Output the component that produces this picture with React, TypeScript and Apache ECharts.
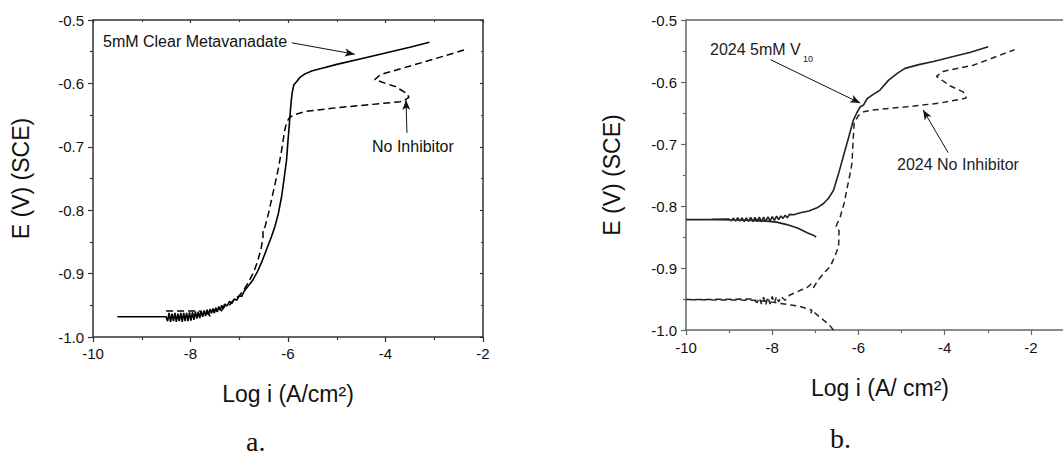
import React, { useEffect, useRef } from "react";
import * as echarts from "echarts";

// Panel a: Log i (A/cm²) vs E (V) (SCE)
const metavanadateA: [number, number][] = [
  [-9.5, -0.968], [-8.5, -0.968], [-8.47, -0.975], [-8.44, -0.962], [-8.41, -0.976], [-8.38, -0.963],
  [-8.35, -0.975], [-8.32, -0.962], [-8.29, -0.976], [-8.26, -0.963], [-8.23, -0.975], [-8.2, -0.962],
  [-8.17, -0.976], [-8.14, -0.962], [-8.11, -0.975], [-8.08, -0.962], [-8.05, -0.975], [-8.02, -0.961],
  [-7.99, -0.974], [-7.96, -0.961], [-7.93, -0.973], [-7.9, -0.96], [-7.87, -0.971], [-7.84, -0.96],
  [-7.81, -0.97], [-7.78, -0.959], [-7.75, -0.968], [-7.72, -0.958], [-7.69, -0.967], [-7.66, -0.957],
  [-7.63, -0.965], [-7.6, -0.956], [-7.57, -0.963], [-7.54, -0.955], [-7.51, -0.962], [-7.48, -0.954],
  [-7.45, -0.96], [-7.42, -0.952], [-7.39, -0.958], [-7.36, -0.95], [-7.33, -0.955], [-7.3, -0.948],
  [-7.25, -0.951], [-7.2, -0.944], [-7.15, -0.947], [-7.1, -0.94], [-7.05, -0.942], [-7.0, -0.935],
  [-6.95, -0.936], [-6.9, -0.928], [-6.8, -0.918], [-6.72, -0.91], [-6.64, -0.899], [-6.54, -0.882],
  [-6.44, -0.862], [-6.34, -0.842], [-6.27, -0.826], [-6.2, -0.806], [-6.13, -0.778], [-6.08, -0.75],
  [-6.03, -0.721], [-6.0, -0.69], [-5.97, -0.662], [-5.95, -0.642], [-5.93, -0.625], [-5.91, -0.613],
  [-5.88, -0.602], [-5.82, -0.597], [-5.75, -0.59], [-5.65, -0.585], [-5.5, -0.58], [-5.3, -0.576],
  [-5.0, -0.57], [-4.5, -0.561], [-4.0, -0.552], [-3.5, -0.543], [-3.1, -0.535],
];
const noInhibitorA: [number, number][] = [
  [-8.5, -0.959], [-7.8, -0.959], [-7.75, -0.966], [-7.68, -0.96], [-7.6, -0.967], [-7.5, -0.957],
  [-7.4, -0.962], [-7.3, -0.952], [-7.2, -0.95], [-7.1, -0.94], [-7.0, -0.935], [-6.9, -0.925],
  [-6.8, -0.912], [-6.7, -0.897], [-6.62, -0.88], [-6.55, -0.86], [-6.51, -0.84], [-6.52, -0.83],
  [-6.47, -0.826], [-6.4, -0.805], [-6.34, -0.784], [-6.27, -0.76], [-6.2, -0.735], [-6.13, -0.705],
  [-6.07, -0.675], [-6.03, -0.662], [-5.98, -0.655], [-5.9, -0.65], [-5.62, -0.644], [-5.08, -0.639],
  [-4.4, -0.634], [-3.7, -0.629], [-3.6, -0.626], [-3.52, -0.622], [-3.56, -0.616], [-3.8, -0.605],
  [-4.0, -0.6], [-4.22, -0.594], [-4.1, -0.586], [-3.2, -0.566], [-2.37, -0.547],
];

// Panel b
const metavanadateB: [number, number][] = [
  [-6.98, -0.85], [-7.05, -0.847], [-7.19, -0.843], [-7.4, -0.836], [-7.66, -0.83], [-7.9, -0.826],
  [-8.2, -0.824], [-8.6, -0.823], [-9.2, -0.822], [-10, -0.822], [-9.4, -0.8215], [-9.0, -0.821],
  [-8.95, -0.824], [-8.9, -0.8195], [-8.85, -0.8245], [-8.8, -0.819], [-8.75, -0.8245], [-8.7, -0.819],
  [-8.65, -0.825], [-8.6, -0.819], [-8.55, -0.825], [-8.5, -0.8185], [-8.45, -0.825], [-8.4, -0.8185],
  [-8.35, -0.825], [-8.3, -0.818], [-8.25, -0.8255], [-8.2, -0.818], [-8.15, -0.825], [-8.1, -0.8175],
  [-8.05, -0.824], [-8.0, -0.817], [-7.95, -0.823], [-7.9, -0.8165], [-7.85, -0.822], [-7.8, -0.816],
  [-7.75, -0.82], [-7.7, -0.815], [-7.65, -0.819], [-7.6, -0.8135], [-7.5, -0.814], [-7.35, -0.811],
  [-7.15, -0.808], [-6.96, -0.803], [-6.81, -0.796], [-6.7, -0.788], [-6.58, -0.775], [-6.45, -0.745],
  [-6.33, -0.715], [-6.23, -0.69], [-6.12, -0.662], [-6.04, -0.65], [-5.96, -0.64], [-5.88, -0.637],
  [-5.8, -0.627], [-5.7, -0.622], [-5.5, -0.613], [-5.3, -0.597], [-5.1, -0.586], [-4.92, -0.578],
  [-4.6, -0.572], [-4.26, -0.567], [-3.8, -0.559], [-3.4, -0.552], [-2.99, -0.543],
];
const noInhibitorB: [number, number][] = [
  [-6.58, -1.0], [-6.7, -0.99], [-6.81, -0.984], [-6.95, -0.976], [-7.05, -0.97], [-7.1, -0.973],
  [-7.08, -0.968], [-7.35, -0.962], [-7.82, -0.957], [-8.1, -0.954], [-8.4, -0.952], [-10, -0.951],
  [-8.45, -0.95], [-8.35, -0.956], [-8.3, -0.948], [-8.25, -0.958], [-8.2, -0.947], [-8.15, -0.959],
  [-8.1, -0.947], [-8.05, -0.958], [-8.0, -0.946], [-7.95, -0.957], [-7.9, -0.946], [-7.85, -0.955],
  [-7.8, -0.946], [-7.7, -0.952], [-7.6, -0.944], [-7.35, -0.936], [-7.2, -0.932], [-7.1, -0.926],
  [-7.05, -0.932], [-6.93, -0.919], [-6.8, -0.908], [-6.65, -0.897], [-6.54, -0.88], [-6.46, -0.865],
  [-6.45, -0.84], [-6.52, -0.833], [-6.42, -0.817], [-6.33, -0.795], [-6.27, -0.774], [-6.2, -0.75],
  [-6.15, -0.731], [-6.12, -0.69], [-6.1, -0.666], [-6.0, -0.654], [-5.88, -0.648], [-5.66, -0.645],
  [-4.88, -0.64], [-4.11, -0.634], [-3.5, -0.626], [-3.57, -0.616], [-3.88, -0.606], [-4.19, -0.591],
  [-4.04, -0.583], [-3.34, -0.573], [-2.38, -0.548],
];

// Annotation arrows (data coordinates): [from, to]
const arrowsA: [[number, number], [number, number]][] = [
  [[-5.92, -0.536], [-4.63, -0.554]],
  [[-3.56, -0.678], [-3.58, -0.626]],
];
const arrowsB: [[number, number], [number, number]][] = [
  [[-8.04, -0.564], [-5.96, -0.634]],
  [[-3.92, -0.714], [-4.5, -0.645]],
];

const xTicks = { min: -10, max: -2, interval: 2 };
const yTicks = { min: -1.0, max: -0.5, interval: 0.1 };

const SANS = "'Liberation Sans', Arial, sans-serif";
const SERIF = "'Liberation Serif', 'Times New Roman', serif";

function arrowMark(arrows: [[number, number], [number, number]][]) {
  return {
    silent: true,
    symbol: ["none", "arrow"],
    symbolSize: [6, 10],
    label: { show: false },
    lineStyle: { color: "#111", width: 1, type: "solid" },
    data: arrows.map(([a, b]) => [{ coord: a }, { coord: b }]),
  };
}

export default function App() {
  const ref = useRef<HTMLDivElement>(null);
  useEffect(() => {
    if (!ref.current) return;
    const chart = echarts.init(ref.current, undefined, { renderer: "svg" });
    const axisColA = "#333";
    const axisColB = "#666";
    const mkX = (grid: number, col: string, pos: "bottom" | "top", name: string, extraMax?: number) => ({
      type: "value",
      gridIndex: grid,
      position: pos,
      min: xTicks.min,
      max: extraMax ?? xTicks.max,
      interval: xTicks.interval,
      axisLine: { show: true, onZero: false, lineStyle: { color: col, width: 1.5 } },
      axisTick: pos === "bottom"
        ? { show: true, inside: false, length: 5, lineStyle: { color: col, width: 1.2 } }
        : { show: grid === 0, inside: true, length: 3, lineStyle: { color: col, width: 1.2 } },
      minorTick: pos === "bottom"
        ? { show: true, splitNumber: 2, length: 3, lineStyle: { color: col, width: 1.2 } }
        : { show: grid === 0, splitNumber: 2, length: 2, lineStyle: { color: col } },
      splitLine: { show: false },
      axisLabel: pos === "bottom"
        ? {
            show: true, color: "#111", fontSize: 15, fontFamily: SANS, margin: grid === 0 ? 9 : 10,
            formatter: (v: number) => (Math.abs(v % 2) < 1e-9 ? String(v) : ""),
          }
        : { show: false },
      name: pos === "bottom" ? name : "",
      nameLocation: "middle",
      nameGap: grid === 0 ? 45 : 46,
      nameTextStyle: { fontSize: 23, color: "#111", fontFamily: SANS },
    });
    const mkY = (grid: number, col: string, pos: "left" | "right") => ({
      type: "value",
      gridIndex: grid,
      position: pos,
      min: yTicks.min,
      max: yTicks.max,
      interval: yTicks.interval,
      axisLine: { show: true, onZero: false, lineStyle: { color: col, width: 1.5 } },
      axisTick: pos === "left"
        ? { show: true, inside: false, length: 5, lineStyle: { color: col, width: 1.2 } }
        : { show: grid === 0, inside: true, length: 3, lineStyle: { color: col, width: 1.2 } },
      minorTick: pos === "left"
        ? { show: true, splitNumber: 2, length: 3, lineStyle: { color: col, width: 1.2 } }
        : { show: grid === 0, splitNumber: 2, length: 2, lineStyle: { color: col } },
      splitLine: { show: false },
      axisLabel: pos === "left"
        ? { show: true, color: "#111", fontSize: 15, fontFamily: SANS, margin: 9, formatter: (v: number) => v.toFixed(1) }
        : { show: false },
      name: pos === "left" ? "E (V) (SCE)" : "",
      nameLocation: "middle",
      nameGap: grid === 0 ? 61 : 63,
      nameTextStyle: { fontSize: 23, color: "#111", fontFamily: SANS },
    });

    chart.setOption({
      animation: false,
      backgroundColor: "#fff",
      textStyle: { fontFamily: SANS },
      grid: [
        { left: 93, width: 390, top: 20, height: 317 },
        { left: 686, width: 388, top: 20, height: 310 },
      ],
      xAxis: [
        mkX(0, axisColA, "bottom", "Log i (A/cm²)"),
        mkX(0, axisColA, "top", ""),
        mkX(1, axisColB, "bottom", "Log i (A/ cm²)", -1),
        mkX(1, axisColB, "top", "", -1),
      ],
      yAxis: [mkY(0, axisColA, "left"), mkY(0, axisColA, "right"), mkY(1, axisColB, "left"), mkY(1, axisColB, "right")],
      series: [
        {
          name: "5mM Clear Metavanadate", type: "line", xAxisIndex: 0, yAxisIndex: 0,
          data: metavanadateA, showSymbol: false, smooth: false,
          lineStyle: { color: "#000", width: 1.6, type: "solid" },
          markLine: arrowMark(arrowsA),
        },
        {
          name: "No Inhibitor", type: "line", xAxisIndex: 0, yAxisIndex: 0,
          data: noInhibitorA, showSymbol: false,
          lineStyle: { color: "#000", width: 1.5, type: [7, 4] },
        },
        {
          name: "2024 5mM V10", type: "line", xAxisIndex: 2, yAxisIndex: 2,
          data: metavanadateB, showSymbol: false,
          lineStyle: { color: "#222", width: 1.6, type: "solid" },
          markLine: arrowMark(arrowsB),
        },
        {
          name: "2024 No Inhibitor", type: "line", xAxisIndex: 2, yAxisIndex: 2,
          data: noInhibitorB, showSymbol: false,
          lineStyle: { color: "#222", width: 1.5, type: [6, 4] },
        },
      ],
      graphic: [
        { type: "text", left: 103, top: 33, style: { text: "5mM Clear Metavanadate", fontSize: 16, fontFamily: SANS, fill: "#111" } },
        { type: "text", left: 372, top: 138, style: { text: "No Inhibitor", fontSize: 16, fontFamily: SANS, fill: "#111" } },
        { type: "text", left: 710, top: 41, style: { text: "2024 5mM V", fontSize: 16, fontFamily: SANS, fill: "#222" } },
        { type: "text", left: 803, top: 54, style: { text: "10", fontSize: 9, fontFamily: SANS, fill: "#222" } },
        { type: "text", left: 897, top: 156, style: { text: "2024 No Inhibitor", fontSize: 16, fontFamily: SANS, fill: "#222" } },
        { type: "text", left: 246, top: 427, style: { text: "a.", fontSize: 28, fontFamily: SERIF, fill: "#111" } },
        { type: "text", left: 830, top: 424, style: { text: "b.", fontSize: 28, fontFamily: SERIF, fill: "#111" } },
      ],
    });
    return () => chart.dispose();
  }, []);
  return (
    <div
      ref={ref}
      style={{ position: "fixed", left: 0, top: 0, width: 1080, height: 469, background: "#fff" }}
    />
  );
}
